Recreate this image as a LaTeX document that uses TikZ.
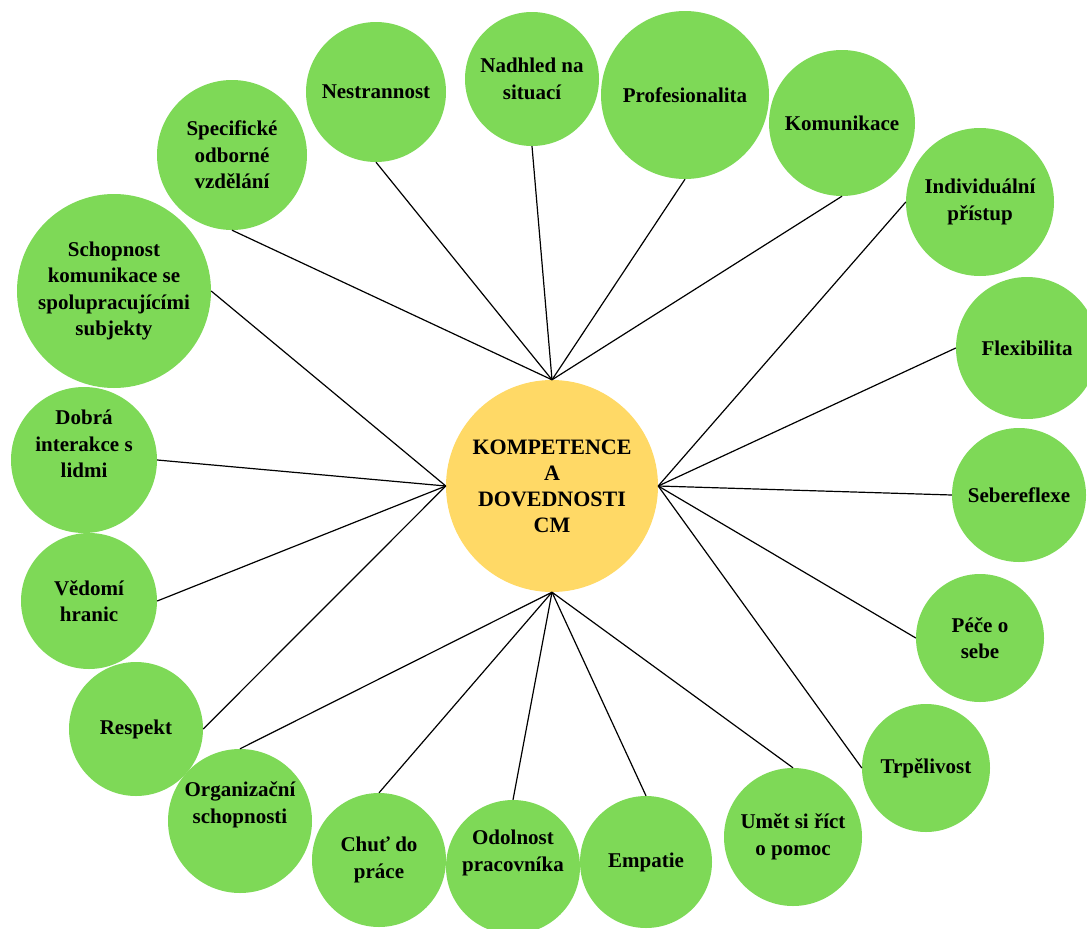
\documentclass[tikz,border=0pt]{standalone}
\usepackage{fontspec}
\setmainfont{Liberation Serif}
\definecolor{cgreen}{RGB}{126,217,87}
\definecolor{cyellow}{RGB}{255,217,102}
\tikzset{
  bub/.style={circle, fill=cgreen, inner sep=0pt, align=center, text=black,
    font=\fontsize{21}{26.5}\selectfont\bfseries},
  mid/.style={circle, fill=cyellow, inner sep=0pt, align=center, text=black,
    minimum size=212pt, font=\fontsize{22}{26}\selectfont\bfseries},
  lbl/.style={align=center, text=black, font=\fontsize{21}{26.5}\selectfont\bfseries},
  conn/.style={draw=black, line width=1.2pt}
}
\begin{document}
\begin{tikzpicture}[x=1pt,y=-1pt]
\useasboundingbox (0,0) rectangle (1087,929);
\node[mid] (cm) at (552,486) {KOMPETENCE\\A\\DOVEDNOSTI\\CM};

\node[bub, minimum size=150pt] (spec) at (232,155) {Specifické\\odborné\\vzdělání};
\node[bub, minimum size=140pt] (nest) at (376,92) {Nestrannost};
\node[bub, minimum size=134pt] (nadh) at (532,79) {Nadhled na\\situací};
\node[bub, minimum size=168pt] (prof) at (685,95) {Profesionalita};
\node[bub, minimum size=146pt] (komu) at (842,123) {Komunikace};
\node[bub, minimum size=148pt] (indi) at (980,202) {Individuální\\přístup};
\node[bub, minimum size=142pt] (flex) at (1027,348) {Flexibilita};
\node[bub, minimum size=134pt] (sebe) at (1019,495) {Sebereflexe};
\node[bub, minimum size=128pt] (pece) at (980,638) {Péče o\\sebe};
\node[bub, minimum size=128pt] (trpe) at (926,768) {Trpělivost};
\node[bub, minimum size=138pt] (umet) at (793,837) {Umět si říct\\o pomoc};
\node[bub, minimum size=132pt] (empa) at (646,862) {Empatie};
\node[bub, minimum size=134pt, label={[lbl,yshift=14pt]center:{Odolnost\\pracovníka}}] (odol) at (513,867) {};
\node[bub, minimum size=134pt] (chut) at (379,860) {Chuť do\\práce};
\node[bub, minimum size=144pt, label={[lbl,yshift=16pt]center:{Organizační\\schopnosti}}] (orga) at (240,821) {};
\node[bub, minimum size=134pt] (resp) at (136,729) {Respekt};
\node[bub, minimum size=136pt] (vedo) at (89,601) {Vědomí\\hranic};
\node[bub, minimum size=146pt, label={[lbl,yshift=16pt]center:{Dobrá\\interakce s\\lidmi}}] (dobr) at (84,460) {};
\node[bub, minimum size=194pt] (scho) at (114,291) {Schopnost\\komunikace se\\spolupracujícími\\subjekty};

\foreach \n in {spec,nest,nadh,prof,komu}
  \draw[conn] (\n.south) -- (cm.north);
\foreach \n in {indi,flex,sebe,pece,trpe}
  \draw[conn] (\n.west) -- (cm.east);
\foreach \n in {umet,empa,odol,chut,orga}
  \draw[conn] (\n.north) -- (cm.south);
\foreach \n in {scho,dobr,vedo,resp}
  \draw[conn] (\n.east) -- (cm.west);
\end{tikzpicture}
\end{document}
